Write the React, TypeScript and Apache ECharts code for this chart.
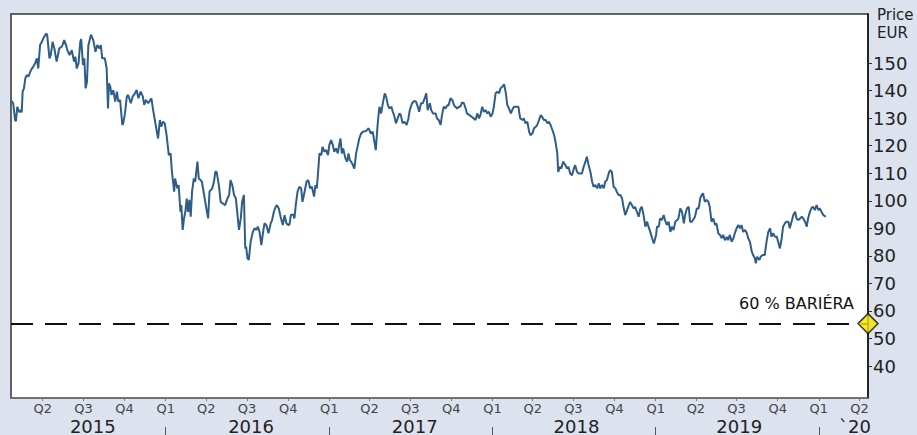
import React, { useEffect, useRef } from "react";
import * as echarts from "echarts";

// ---- data ----
const prices2015: [string, number][] = [
  ["2015-01-20", 136.5], ["2015-01-25", 135.4], ["2015-01-29", 129.3], ["2015-01-31", 128.9],
  ["2015-02-03", 134.1], ["2015-02-08", 132.1], ["2015-02-11", 132.9], ["2015-02-13", 132.1],
  ["2015-02-15", 139.6], ["2015-02-18", 140.8], ["2015-02-21", 144.4], ["2015-02-24", 145.6],
  ["2015-02-28", 145.1], ["2015-03-04", 146.8], ["2015-03-08", 148.1], ["2015-03-11", 148.7],
  ["2015-03-15", 149.9], ["2015-03-19", 151.7], ["2015-03-22", 148.0], ["2015-03-26", 156.5],
  ["2015-03-30", 157.7], ["2015-04-02", 158.9], ["2015-04-09", 160.7], ["2015-04-11", 160.1],
  ["2015-04-16", 151.7], ["2015-04-19", 152.9], ["2015-04-23", 157.7], ["2015-04-27", 155.3],
  ["2015-05-02", 150.5], ["2015-05-08", 155.3], ["2015-05-14", 156.0], ["2015-05-19", 158.3],
  ["2015-05-23", 156.5], ["2015-05-26", 154.7], ["2015-05-31", 152.9], ["2015-06-05", 154.7],
  ["2015-06-10", 150.5], ["2015-06-13", 152.3], ["2015-06-16", 148.0], ["2015-06-20", 149.9],
  ["2015-06-24", 157.7], ["2015-06-26", 158.7], ["2015-06-30", 149.3], ["2015-07-03", 151.7],
  ["2015-07-06", 140.8], ["2015-07-09", 143.3], ["2015-07-12", 156.5], ["2015-07-18", 160.3],
  ["2015-07-23", 158.3], ["2015-07-28", 154.1], ["2015-08-01", 156.5], ["2015-08-06", 155.3],
  ["2015-08-09", 156.5], ["2015-08-12", 151.7], ["2015-08-18", 151.7], ["2015-08-22", 148.0],
  ["2015-08-25", 133.5], ["2015-08-27", 142.6], ["2015-08-30", 141.4], ["2015-09-02", 138.4],
  ["2015-09-06", 140.2], ["2015-09-10", 136.0], ["2015-09-14", 139.6], ["2015-09-17", 136.0],
  ["2015-09-21", 136.6], ["2015-09-26", 127.5], ["2015-09-28", 128.1], ["2015-10-02", 131.7],
  ["2015-10-06", 137.8], ["2015-10-09", 138.4], ["2015-10-15", 135.4], ["2015-10-19", 137.8],
  ["2015-10-24", 138.9], ["2015-10-28", 140.2], ["2015-11-01", 137.2], ["2015-11-06", 139.6],
  ["2015-11-11", 137.8], ["2015-11-14", 134.8], ["2015-11-18", 136.6], ["2015-11-23", 135.4],
  ["2015-11-30", 137.2], ["2015-12-04", 132.9], ["2015-12-09", 128.1], ["2015-12-15", 122.6],
  ["2015-12-19", 129.3], ["2015-12-22", 126.9], ["2015-12-26", 128.7], ["2015-12-30", 128.1],
];

const prices2016: [string, number][] = [
  ["2016-01-03", 123.8], ["2016-01-08", 116.6], ["2016-01-12", 117.2], ["2016-01-15", 110.5],
  ["2016-01-20", 103.3], ["2016-01-22", 108.1], ["2016-01-27", 104.5], ["2016-01-30", 105.7],
  ["2016-02-03", 96.0], ["2016-02-05", 98.4], ["2016-02-08", 89.4], ["2016-02-11", 93.6],
  ["2016-02-14", 96.0], ["2016-02-17", 100.8], ["2016-02-20", 96.0], ["2016-02-23", 100.3],
  ["2016-02-26", 94.2], ["2016-02-29", 103.3], ["2016-03-04", 108.1], ["2016-03-07", 106.9],
  ["2016-03-12", 114.2], ["2016-03-15", 108.1], ["2016-03-19", 107.5], ["2016-03-22", 106.9],
  ["2016-03-27", 102.1], ["2016-04-01", 97.2], ["2016-04-05", 93.6], ["2016-04-08", 103.3],
  ["2016-04-14", 104.5], ["2016-04-18", 106.9], ["2016-04-21", 110.5], ["2016-04-24", 110.5],
  ["2016-04-29", 105.7], ["2016-05-03", 99.6], ["2016-05-08", 99.0], ["2016-05-13", 98.4],
  ["2016-05-18", 100.8], ["2016-05-22", 102.1], ["2016-05-25", 107.5], ["2016-05-29", 105.7],
  ["2016-06-02", 102.1], ["2016-06-06", 100.8], ["2016-06-09", 96.0], ["2016-06-13", 89.4],
  ["2016-06-17", 93.6], ["2016-06-20", 99.6], ["2016-06-24", 102.1], ["2016-06-27", 82.7],
  ["2016-06-29", 83.3], ["2016-07-02", 79.1], ["2016-07-05", 78.5], ["2016-07-09", 85.1],
  ["2016-07-14", 88.7], ["2016-07-18", 90.0], ["2016-07-22", 89.4], ["2016-07-25", 90.6],
  ["2016-07-29", 88.7], ["2016-08-02", 83.9], ["2016-08-06", 88.7], ["2016-08-09", 91.8],
  ["2016-08-13", 91.2], ["2016-08-18", 88.2], ["2016-08-23", 91.8], ["2016-08-26", 93.0],
  ["2016-08-30", 96.0], ["2016-09-03", 97.8], ["2016-09-06", 98.4], ["2016-09-10", 97.2],
  ["2016-09-14", 94.2], ["2016-09-19", 91.2], ["2016-09-23", 94.8], ["2016-09-27", 91.8],
  ["2016-10-01", 91.2], ["2016-10-04", 91.4], ["2016-10-07", 94.8], ["2016-10-12", 95.0],
  ["2016-10-15", 93.6], ["2016-10-18", 98.4], ["2016-10-22", 103.3], ["2016-10-26", 105.1],
  ["2016-10-30", 104.5], ["2016-11-02", 99.6], ["2016-11-06", 102.7], ["2016-11-11", 106.9],
  ["2016-11-15", 107.5], ["2016-11-19", 104.5], ["2016-11-23", 105.1], ["2016-11-28", 101.5],
  ["2016-12-01", 105.7], ["2016-12-04", 104.5], ["2016-12-07", 110.5], ["2016-12-10", 117.2],
  ["2016-12-14", 116.6], ["2016-12-17", 119.6], ["2016-12-21", 117.8], ["2016-12-25", 118.4],
  ["2016-12-29", 116.6],
];

const prices2017: [string, number][] = [
  ["2017-01-01", 120.2], ["2017-01-05", 122.0], ["2017-01-09", 120.2], ["2017-01-12", 117.8],
  ["2017-01-16", 119.0], ["2017-01-20", 117.2], ["2017-01-23", 120.2], ["2017-01-26", 122.6],
  ["2017-01-29", 117.2], ["2017-02-01", 119.0], ["2017-02-06", 115.4], ["2017-02-10", 114.2],
  ["2017-02-13", 117.2], ["2017-02-16", 114.8], ["2017-02-21", 113.6], ["2017-02-26", 111.7],
  ["2017-03-02", 117.2], ["2017-03-06", 120.2], ["2017-03-09", 122.6], ["2017-03-13", 124.4],
  ["2017-03-18", 125.1], ["2017-03-24", 125.3], ["2017-03-30", 126.3], ["2017-04-04", 124.4],
  ["2017-04-08", 125.1], ["2017-04-12", 121.4], ["2017-04-15", 118.4], ["2017-04-19", 127.5],
  ["2017-04-23", 134.1], ["2017-04-27", 131.7], ["2017-04-30", 134.7], ["2017-05-05", 139.0],
  ["2017-05-08", 137.8], ["2017-05-12", 134.8], ["2017-05-15", 133.5], ["2017-05-20", 134.1],
  ["2017-05-23", 132.3], ["2017-05-26", 131.1], ["2017-05-30", 128.1], ["2017-06-03", 129.9],
  ["2017-06-07", 131.7], ["2017-06-10", 131.1], ["2017-06-14", 128.1], ["2017-06-18", 128.7],
  ["2017-06-23", 127.5], ["2017-06-27", 129.9], ["2017-06-30", 132.9], ["2017-07-05", 135.4],
  ["2017-07-10", 136.2], ["2017-07-14", 136.0], ["2017-07-18", 134.1], ["2017-07-21", 132.3],
  ["2017-07-25", 135.4], ["2017-07-29", 135.4], ["2017-08-01", 136.6], ["2017-08-06", 139.0],
  ["2017-08-09", 132.9], ["2017-08-14", 135.4], ["2017-08-17", 132.9], ["2017-08-21", 131.7],
  ["2017-08-27", 131.7], ["2017-08-30", 129.9], ["2017-09-03", 129.3], ["2017-09-07", 127.5],
  ["2017-09-10", 131.1], ["2017-09-14", 134.1], ["2017-09-18", 133.5], ["2017-09-22", 134.7],
  ["2017-09-25", 134.7], ["2017-09-29", 137.2], ["2017-10-03", 136.6], ["2017-10-07", 134.7],
  ["2017-10-10", 134.1], ["2017-10-14", 133.5], ["2017-10-18", 134.1], ["2017-10-21", 134.1],
  ["2017-10-25", 135.7], ["2017-10-29", 135.4], ["2017-11-02", 133.5], ["2017-11-05", 131.7],
  ["2017-11-13", 130.8], ["2017-11-20", 129.9], ["2017-11-24", 129.3], ["2017-11-28", 131.7],
  ["2017-12-02", 129.9], ["2017-12-05", 131.1], ["2017-12-09", 134.1], ["2017-12-13", 132.3],
  ["2017-12-17", 132.9], ["2017-12-20", 131.7], ["2017-12-24", 132.3], ["2017-12-28", 130.5],
];

const prices2018: [string, number][] = [
  ["2018-01-01", 131.7], ["2018-01-04", 134.1], ["2018-01-08", 139.0], ["2018-01-12", 139.6],
  ["2018-01-16", 139.0], ["2018-01-19", 140.8], ["2018-01-23", 141.4], ["2018-01-27", 142.3],
  ["2018-01-31", 139.0], ["2018-02-03", 134.8], ["2018-02-07", 133.5], ["2018-02-11", 131.7],
  ["2018-02-14", 132.9], ["2018-02-18", 134.1], ["2018-02-22", 134.1], ["2018-02-28", 134.1],
  ["2018-03-04", 129.9], ["2018-03-09", 129.3], ["2018-03-12", 129.9], ["2018-03-16", 128.1],
  ["2018-03-20", 128.7], ["2018-03-24", 125.1], ["2018-03-27", 123.8], ["2018-03-31", 124.4],
  ["2018-04-04", 126.3], ["2018-04-08", 126.9], ["2018-04-11", 127.5], ["2018-04-15", 129.3],
  ["2018-04-19", 131.1], ["2018-04-22", 130.5], ["2018-04-26", 129.3], ["2018-04-30", 129.3],
  ["2018-05-04", 128.1], ["2018-05-07", 128.7], ["2018-05-11", 127.5], ["2018-05-15", 125.7],
  ["2018-05-19", 123.8], ["2018-05-22", 121.4], ["2018-05-26", 117.2], ["2018-05-28", 110.5],
  ["2018-06-01", 112.3], ["2018-06-04", 111.7], ["2018-06-08", 114.2], ["2018-06-13", 113.0],
  ["2018-06-17", 111.7], ["2018-06-20", 112.3], ["2018-06-24", 109.9], ["2018-06-28", 109.3],
  ["2018-07-02", 111.7], ["2018-07-05", 112.9], ["2018-07-09", 110.5], ["2018-07-13", 109.9],
  ["2018-07-16", 109.9], ["2018-07-20", 109.9], ["2018-07-24", 112.3], ["2018-07-28", 114.2],
  ["2018-07-31", 116.0], ["2018-08-04", 113.0], ["2018-08-08", 110.5], ["2018-08-12", 106.9],
  ["2018-08-15", 105.1], ["2018-08-19", 105.7], ["2018-08-23", 104.5], ["2018-08-27", 106.3],
  ["2018-08-30", 104.5], ["2018-09-03", 105.7], ["2018-09-07", 104.5], ["2018-09-10", 106.9],
  ["2018-09-14", 107.5], ["2018-09-18", 109.9], ["2018-09-21", 111.1], ["2018-09-25", 110.5],
  ["2018-09-29", 105.1], ["2018-10-03", 104.5], ["2018-10-06", 103.3], ["2018-10-10", 102.1],
  ["2018-10-14", 102.1], ["2018-10-18", 100.8], ["2018-10-21", 97.8], ["2018-10-25", 94.8],
  ["2018-10-29", 96.6], ["2018-11-02", 98.4], ["2018-11-05", 99.6], ["2018-11-09", 98.4],
  ["2018-11-13", 97.2], ["2018-11-16", 97.8], ["2018-11-20", 96.0], ["2018-11-24", 94.2],
  ["2018-11-28", 97.2], ["2018-12-01", 97.8], ["2018-12-05", 94.8], ["2018-12-09", 90.6],
  ["2018-12-13", 92.4], ["2018-12-16", 90.6], ["2018-12-20", 88.7], ["2018-12-24", 86.4],
  ["2018-12-28", 84.5],
];

const prices2019: [string, number][] = [
  ["2019-01-02", 87.6], ["2019-01-04", 90.6], ["2019-01-08", 90.6], ["2019-01-11", 93.6],
  ["2019-01-15", 93.0], ["2019-01-19", 94.8], ["2019-01-22", 93.0], ["2019-01-26", 91.2],
  ["2019-01-30", 92.4], ["2019-02-03", 88.7], ["2019-02-06", 90.6], ["2019-02-10", 89.4],
  ["2019-02-14", 92.4], ["2019-02-18", 93.0], ["2019-02-21", 93.6], ["2019-02-25", 97.2],
  ["2019-03-01", 96.0], ["2019-03-05", 91.8], ["2019-03-08", 94.8], ["2019-03-12", 97.2],
  ["2019-03-16", 97.8], ["2019-03-19", 92.4], ["2019-03-23", 92.4], ["2019-03-30", 94.2],
  ["2019-04-03", 97.2], ["2019-04-07", 97.2], ["2019-04-11", 101.0], ["2019-04-14", 102.1],
  ["2019-04-17", 102.7], ["2019-04-21", 99.6], ["2019-04-25", 100.3], ["2019-04-29", 99.6],
  ["2019-05-02", 97.8], ["2019-05-06", 92.4], ["2019-05-10", 93.6], ["2019-05-14", 91.2],
  ["2019-05-17", 91.8], ["2019-05-21", 88.2], ["2019-05-25", 87.6], ["2019-05-29", 86.4],
  ["2019-06-01", 87.6], ["2019-06-05", 85.7], ["2019-06-09", 86.9], ["2019-06-12", 85.7],
  ["2019-06-16", 87.6], ["2019-06-20", 85.1], ["2019-06-24", 86.4], ["2019-06-27", 88.2],
  ["2019-07-01", 90.0], ["2019-07-05", 91.2], ["2019-07-09", 90.0], ["2019-07-12", 91.2],
  ["2019-07-16", 88.7], ["2019-07-20", 89.4], ["2019-07-24", 88.2], ["2019-07-27", 86.4],
  ["2019-07-31", 85.1], ["2019-08-04", 81.5], ["2019-08-07", 80.3], ["2019-08-11", 79.1],
  ["2019-08-13", 77.3], ["2019-08-16", 79.7], ["2019-08-21", 78.5], ["2019-08-24", 79.7],
  ["2019-08-28", 80.3], ["2019-09-02", 80.3], ["2019-09-06", 85.1], ["2019-09-10", 88.7],
  ["2019-09-14", 90.0], ["2019-09-17", 86.9], ["2019-09-21", 88.2], ["2019-09-25", 86.9],
  ["2019-09-29", 86.9], ["2019-10-02", 85.1], ["2019-10-06", 82.7], ["2019-10-10", 86.4],
  ["2019-10-13", 90.6], ["2019-10-17", 91.8], ["2019-10-21", 92.4], ["2019-10-25", 92.4],
  ["2019-10-28", 90.0], ["2019-11-01", 92.4], ["2019-11-05", 94.8], ["2019-11-09", 96.0],
  ["2019-11-12", 93.6], ["2019-11-16", 93.0], ["2019-11-20", 93.6], ["2019-11-24", 94.2],
  ["2019-11-27", 93.6], ["2019-12-01", 92.4], ["2019-12-05", 90.6], ["2019-12-08", 93.6],
  ["2019-12-12", 96.0], ["2019-12-16", 97.5], ["2019-12-19", 97.8], ["2019-12-23", 96.6],
  ["2019-12-27", 98.4], ["2019-12-31", 96.6],
];

const prices2020: [string, number][] = [
  ["2020-01-03", 97.2], ["2020-01-07", 96.0], ["2020-01-11", 94.8], ["2020-01-17", 94.2],
];

const quarterStarts = [
  "2015-04-01", "2015-07-01", "2015-10-01",
  "2016-01-01", "2016-04-01", "2016-07-01", "2016-10-01",
  "2017-01-01", "2017-04-01", "2017-07-01", "2017-10-01",
  "2018-01-01", "2018-04-01", "2018-07-01", "2018-10-01",
  "2019-01-01", "2019-04-01", "2019-07-01", "2019-10-01",
  "2020-01-01", "2020-04-01",
];
const yearBoundaries = ["2016-01-01", "2017-01-01", "2018-01-01", "2019-01-01", "2020-01-01"];
const yearLabelDates = ["2015-07-22", "2016-07-10", "2017-07-11", "2018-07-08", "2019-07-07", "2020-03-22"];
const yearLabels = ["2015", "2016", "2017", "2018", "2019", "`20"];
const yTickValues = [40, 50, 60, 70, 80, 90, 100, 110, 120, 130, 140, 150];
const barrierLevel = 55.4;
const barrierText = "60 % BARIÉRA";
const xStart = "2015-01-20";
const xEnd = "2020-04-20";
const yMin = 28.4;
const yMax = 167.8;
const axisTitle = ["Price", "EUR"];

const FONT = "DejaVu Sans";
const toTs = (s: string) => new Date(s + "T00:00:00").getTime();

export default function App() {
  const ref = useRef<HTMLDivElement>(null);

  useEffect(() => {
    if (!ref.current) return;
    const chart = echarts.init(ref.current, undefined, { renderer: "svg" });

    const allPrices = [...prices2015, ...prices2016, ...prices2017, ...prices2018, ...prices2019, ...prices2020];
    const lineData = allPrices.map(([d, v]) => [toTs(d), v]);
    const minTs = toTs(xStart);
    const maxTs = toTs(xEnd);
    const quarterTs = quarterStarts.map(toTs);
    const boundaryTs = yearBoundaries.map(toTs);
    const yearLabelTs = yearLabelDates.map(toTs);

    const option: any = {
      animation: false,
      backgroundColor: "#dce2ee",
      textStyle: { fontFamily: FONT },
      grid: {
        left: 11, right: 49, top: 14, bottom: 37,
        show: true, backgroundColor: "#ffffff", borderColor: "#333", borderWidth: 1.5,
      },
      xAxis: [
        {
          type: "value", min: minTs, max: maxTs, position: "bottom",
          axisLine: { show: true, lineStyle: { color: "#777", width: 1.5 } },
          axisTick: { show: true, customValues: quarterTs, length: 3, lineStyle: { color: "#777" } },
          axisLabel: {
            customValues: quarterTs, fontSize: 13, color: "#444", margin: 4, fontFamily: FONT,
            formatter: (v: number) => "Q" + (Math.floor(new Date(v).getMonth() / 3) + 1),
          },
          splitLine: { show: false },
        },
        {
          type: "value", min: minTs, max: maxTs, position: "bottom", offset: 18,
          axisLine: { show: false }, axisTick: { show: false },
          axisLabel: {
            customValues: yearLabelTs, fontSize: 18, color: "#222", margin: 1, fontFamily: FONT,
            formatter: (v: number) => {
              const i = yearLabelTs.indexOf(v);
              return i >= 0 ? yearLabels[i] : "";
            },
          },
          splitLine: { show: false },
        },
        {
          type: "value", min: minTs, max: maxTs, position: "bottom", offset: 29,
          axisLine: { show: false },
          axisTick: { show: true, customValues: boundaryTs, length: 9, lineStyle: { color: "#555", width: 1 } },
          axisLabel: { show: false },
          splitLine: { show: false },
        },
      ],
      yAxis: {
        type: "value", position: "right", min: yMin, max: yMax,
        axisLine: { show: true, lineStyle: { color: "#111", width: 1.5 } },
        axisTick: { show: true, customValues: yTickValues, length: 4, lineStyle: { color: "#333" } },
        axisLabel: { customValues: yTickValues, fontSize: 18, color: "#222", margin: 5, fontFamily: FONT },
        splitLine: { show: false },
      },
      graphic: [
        { type: "text", left: 877, top: 7, style: { text: axisTitle[0], font: `15px '${FONT}'`, fill: "#222" } },
        { type: "text", left: 877, top: 25, style: { text: axisTitle[1], font: `15px '${FONT}'`, fill: "#222" } },
      ],
      series: [
        {
          type: "line",
          data: lineData,
          showSymbol: false,
          symbol: "none",
          lineStyle: { color: "#2e5e88", width: 2 },
          z: 3,
          markLine: {
            silent: true,
            symbol: ["none", "none"],
            data: [{ yAxis: barrierLevel }],
            lineStyle: { type: [22, 12], color: "#111", width: 2 },
            label: {
              show: true, position: "insideEndTop", formatter: barrierText,
              color: "#111", fontSize: 16, fontFamily: FONT, distance: [14, 12],
            },
          },
        },
        {
          type: "scatter",
          data: [[maxTs, barrierLevel]],
          symbol: "diamond",
          symbolSize: [20, 20],
          clip: false,
          z: 10,
          itemStyle: { color: "#f6e300", borderColor: "#111", borderWidth: 1.5 },
        },
      ],
    };

    chart.setOption(option);
    return () => chart.dispose();
  }, []);

  return (
    <div style={{ position: "fixed", left: 0, top: 0, width: 917, height: 435, background: "#dce2ee" }}>
      <div ref={ref} style={{ width: 917, height: 435 }} />
    </div>
  );
}
